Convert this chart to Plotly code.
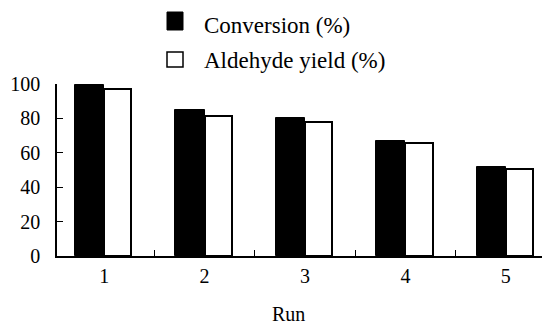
import plotly.graph_objects as go

runs = [1, 2, 3, 4, 5]
run_labels = ["1", "2", "3", "4", "5"]
conversion = [99.5, 85, 80.5, 67, 51.5]
aldehyde_yield = [97, 81.5, 78, 65.5, 50.5]
y_ticks = [0, 20, 40, 60, 80, 100]
boundaries = [1.5, 2.5, 3.5, 4.5]

FONT = "Times New Roman"
FS = 20
FS_LEG = 23
OFF = 8  # page body margin
W, H = 550 - OFF, 326 - OFF
L, R, T, B = 57 - OFF, 1, 84 - OFF, 326 - 256
pw = W - L - R
ph = H - T - B

def px(x):
    return (x - OFF - L) / pw

def py(y):
    return (326 - B - y) / ph

fig = go.Figure()
fig.add_trace(go.Bar(x=runs, y=conversion, width=0.29, offset=-0.29,
                     marker=dict(color="black", line=dict(color="black", width=1)),
                     name="Conversion (%)", showlegend=False))
fig.add_trace(go.Bar(x=runs, y=aldehyde_yield, width=0.27, offset=0.0,
                     marker=dict(color="white", line=dict(color="black", width=2)),
                     name="Aldehyde yield (%)", showlegend=False))
fig.add_trace(go.Scatter(x=[boundaries[0]], y=[0], xaxis="x2", mode="markers",
                         marker=dict(opacity=0), showlegend=False, hoverinfo="skip"))

xr = [0.53, 5.43]
fig.update_layout(
    width=W, height=H,
    margin=dict(l=L, r=R, t=T, b=B, autoexpand=False),
    plot_bgcolor="white", paper_bgcolor="white",
    font=dict(family=FONT, size=FS, color="black"),
    bargap=0,
    xaxis=dict(range=xr, tickvals=runs, ticktext=run_labels, ticks="",
               showline=True, linecolor="black", linewidth=1.5, automargin=False,
               showgrid=False, zeroline=False, ticklabelstandoff=1,
               tickfont=dict(family=FONT, size=FS, color="black")),
    xaxis2=dict(range=xr, overlaying="x", tickvals=boundaries, ticks="inside",
                ticklen=6, tickcolor="black", tickwidth=1.2, showticklabels=False,
                showgrid=False, zeroline=False, showline=False, anchor="y",
                automargin=False),
    yaxis=dict(range=[0, 100], tickvals=y_ticks, ticks="inside", ticklen=6,
               tickcolor="black", tickwidth=1.2, automargin=False,
               showline=True, linecolor="black", linewidth=1.5,
               showgrid=False, zeroline=False, ticklabelstandoff=11,
               tickfont=dict(family=FONT, size=FS, color="black")),
    shapes=[
        dict(type="rect", xref="paper", yref="paper",
             x0=px(167), x1=px(183), y0=py(30), y1=py(12),
             fillcolor="black", line=dict(color="black", width=1)),
        dict(type="rect", xref="paper", yref="paper",
             x0=px(167), x1=px(183), y0=py(67), y1=py(52),
             fillcolor="white", line=dict(color="black", width=1.5)),
    ],
    annotations=[
        dict(text="Conversion (%)", xref="paper", yref="paper",
             x=px(202), y=py(25), xanchor="left", yanchor="middle",
             showarrow=False, font=dict(family=FONT, size=FS_LEG, color="black")),
        dict(text="Aldehyde yield (%)", xref="paper", yref="paper",
             x=px(202), y=py(60), xanchor="left", yanchor="middle",
             showarrow=False, font=dict(family=FONT, size=FS_LEG, color="black")),
        dict(text="Run", xref="paper", yref="paper",
             x=px(288), y=py(314), xanchor="center", yanchor="middle",
             showarrow=False, font=dict(family=FONT, size=FS, color="black")),
    ],
)

fig.write_html("out.html")
